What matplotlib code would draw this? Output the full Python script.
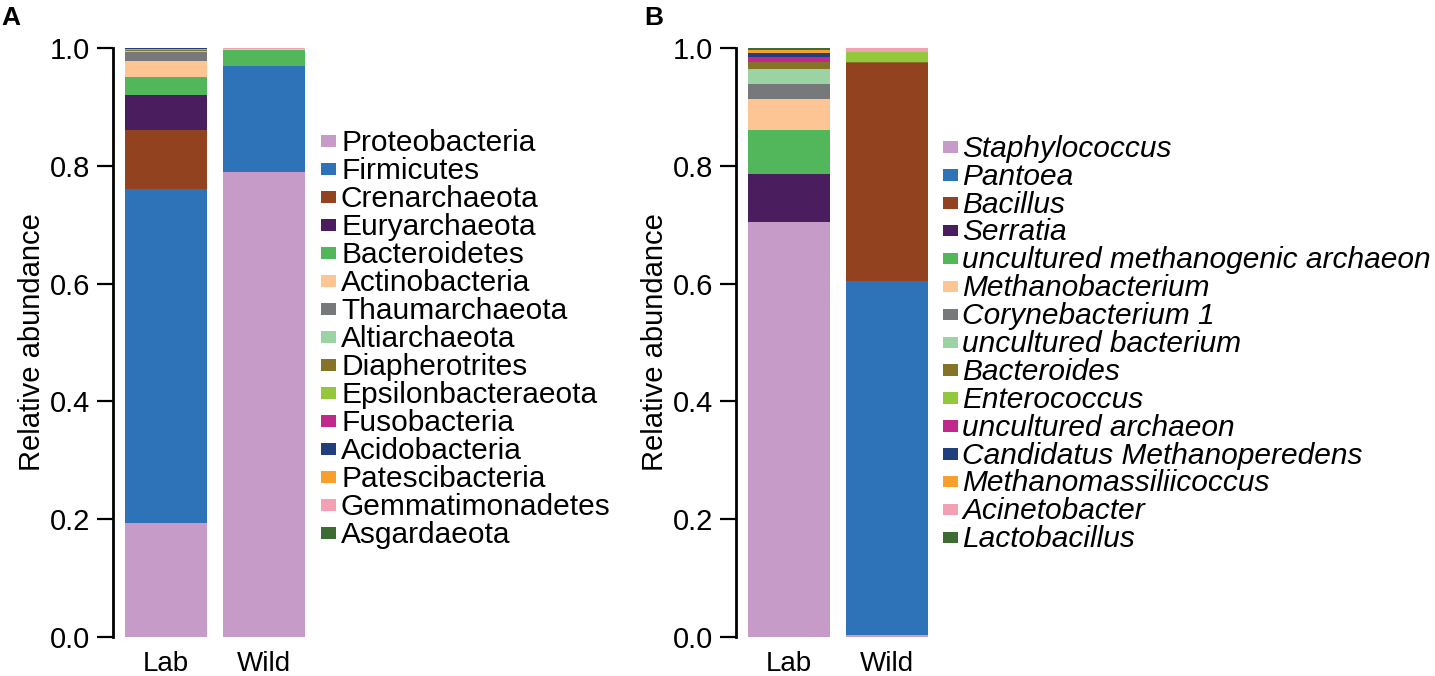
import matplotlib
matplotlib.use("Agg")
import matplotlib.pyplot as plt
from matplotlib.patches import Rectangle

plt.rcParams['font.family'] = ['Liberation Sans', 'DejaVu Sans']

samples = ["Lab", "Wild"]
yticks = [0.0, 0.2, 0.4, 0.6, 0.8, 1.0]

phyla = ["Proteobacteria", "Firmicutes", "Crenarchaeota", "Euryarchaeota", "Bacteroidetes",
         "Actinobacteria", "Thaumarchaeota", "Altiarchaeota", "Diapherotrites",
         "Epsilonbacteraeota", "Fusobacteria", "Acidobacteria", "Patescibacteria",
         "Gemmatimonadetes", "Asgardaeota"]
phyla_lab = [0.194, 0.567, 0.100, 0.059, 0.030, 0.028, 0.015, 0.002, 0.002,
             0.001, 0.0008, 0.0005, 0.0004, 0.0002, 0.0001]
phyla_wild = [0.789, 0.181, 0.0, 0.0, 0.027, 0.0005, 0.0, 0.0, 0.0,
              0.0003, 0.0, 0.0, 0.0, 0.0022, 0.0]

genera = ["Staphylococcus", "Pantoea", "Bacillus", "Serratia", "uncultured methanogenic archaeon",
          "Methanobacterium", "Corynebacterium 1", "uncultured bacterium", "Bacteroides",
          "Enterococcus", "uncultured archaeon", "Candidatus Methanoperedens",
          "Methanomassiliicoccus", "Acinetobacter", "Lactobacillus"]
genera_lab = [0.705, 0.0, 0.0, 0.081, 0.075, 0.053, 0.025, 0.025, 0.012,
              0.001, 0.008, 0.006, 0.005, 0.001, 0.003]
genera_wild = [0.004, 0.601, 0.370, 0.0, 0.0, 0.0, 0.0, 0.0, 0.0015,
               0.0165, 0.0, 0.0, 0.0, 0.007, 0.0]

colors = ["#c79bc8", "#2e72b8", "#93421f", "#4a1e5e", "#52b75a", "#fdc594", "#76787a",
          "#9bd3a5", "#857428", "#93c83d", "#c1288c", "#213f7e", "#f7a12c", "#f3a0b5",
          "#3d6b34"]

W, H = 1435, 676
fig = plt.figure(figsize=(W / 100, H / 100), dpi=100)

def fx(x):
    return x / W

def fy(y):
    return 1 - y / H

FS = 21
LFS = 21.5

def panel(left_px, names, lab, wild, italic, legend_patch_x, legend_text_x,
          base0, pitch, letter, letter_x):
    ax = fig.add_axes([fx(left_px), fy(637), 204 / W, 589 / H])
    xs = [0, 1]
    bottoms = [0.0, 0.0]
    for i, name in enumerate(names):
        vals = [lab[i], wild[i]]
        ax.bar(xs, vals, width=0.837, bottom=bottoms, color=colors[i], linewidth=0)
        bottoms = [b + v for b, v in zip(bottoms, vals)]
    ax.set_xlim(-0.541, 1.541)
    ax.set_ylim(0, 1)
    ax.set_yticks(yticks)
    ax.set_yticklabels([f"{t:.1f}" for t in yticks])
    ax.set_xticks(xs)
    ax.set_xticklabels(samples)
    for s in ["top", "right", "bottom"]:
        ax.spines[s].set_visible(False)
    ax.spines["left"].set_linewidth(2)
    ax.tick_params(axis="y", length=11.5, width=1.6, pad=5, labelsize=FS)
    ax.tick_params(axis="x", length=0, pad=10, labelsize=20)
    ax.set_ylabel("Relative abundance", fontsize=FS, va="center")
    ax.yaxis.set_label_coords(-81 / 204, 0.5)
    # legend
    for i, name in enumerate(names):
        base = base0 + i * pitch
        fig.add_artist(Rectangle((fx(legend_patch_x), fy(base - 4)), 15 / W, 11.5 / H,
                                 transform=fig.transFigure, color=colors[i], lw=0))
        fig.text(fx(legend_text_x), fy(base), name, fontsize=LFS, ha="left", va="baseline",
                 style="italic" if italic else "normal")
    fig.text(fx(letter_x), fy(25), letter, fontsize=19, fontweight="bold",
             ha="left", va="baseline")
    return ax

panel(113, phyla, phyla_lab, phyla_wild, False, 321, 341, 150.7, 28.0, "A", 1)
panel(736, genera, genera_lab, genera_wild, True, 943, 962, 156.7, 27.9, "B", 644)

fig.savefig("out.png", dpi=100)
